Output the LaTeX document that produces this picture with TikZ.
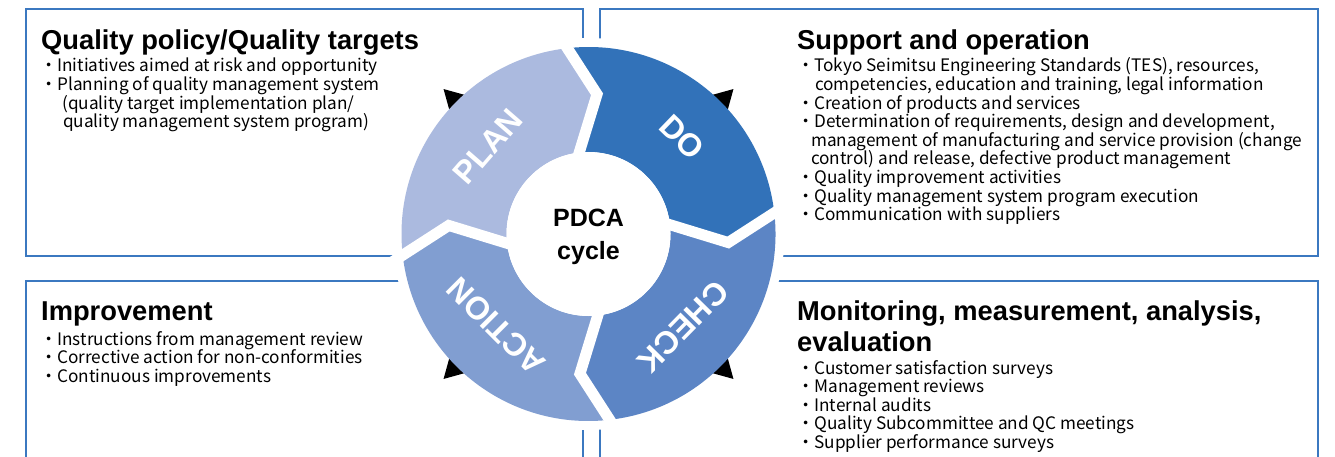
\documentclass[tikz,border=0pt]{standalone}
\usepackage{fontspec}
\setmainfont{Liberation Sans}
\newfontfamily\bodyfont{Noto Sans CJK JP}
\usetikzlibrary{calc}
\definecolor{boxblue}{RGB}{59,120,192}
\definecolor{plancol}{RGB}{171,186,223}
\definecolor{docol}{RGB}{50,114,185}
\definecolor{checkcol}{RGB}{92,133,197}
\definecolor{actcol}{RGB}{129,158,209}
\begin{document}
\begin{tikzpicture}[x=1pt,y=1pt,
  frame/.style={draw=boxblue, line width=1.6pt},
  title/.style={anchor=base west, inner sep=0pt, font=\bfseries\fontsize{27.3}{31}\selectfont},
  body/.style={anchor=base west, inner sep=0pt, font=\bodyfont\fontsize{17.2}{18.6}\selectfont},
  seglabel/.style={text=white, font=\bfseries\fontsize{32}{34}\selectfont, inner sep=0pt, text height=23pt, text depth=0pt, anchor=center},
  centre/.style={anchor=base, inner sep=0pt, font=\bfseries\fontsize{25}{30}\selectfont},
  sepline/.style={draw=white, line width=11pt, line join=miter}]
\clip (0,0) rectangle (1335,456);
\fill[white] (0,0) rectangle (1335,456);
% frames
\draw[frame] (26,447) rectangle (583,200);
\draw[frame] (600,447) rectangle (1318,200);
\draw[frame] (26,175) rectangle (583,-20);
\draw[frame] (600,175) rectangle (1318,-20);
% ring
\coordinate (O) at (588.5,222);
\fill[white] (O) circle[radius=196pt];
\foreach \a in {45,135,225,315}{
  \fill[black] ($(O)+(\a:205pt)$) -- ($(O)+(\a:175pt)+(\a+90:17pt)$) -- ($(O)+(\a:175pt)+(\a-90:17pt)$) -- cycle;
}
\foreach \c/\b in {plancol/186.5, docol/96.5, checkcol/6.5, actcol/-83.5}{
  \fill[\c] ($(O)+(\b:187pt)$) arc[start angle=\b, end angle=\b-90, radius=187pt]
    -- ($(O)+(\b-100:140pt)$) -- ($(O)+(\b-90:82pt)$)
    arc[start angle=\b-90, end angle=\b, radius=82pt]
    -- ($(O)+(\b-10:140pt)$) -- cycle;
}
\foreach \b in {186.5, 96.5, 6.5, -83.5}{
  \coordinate (T) at ($(O)+(\b-10:140pt)$);
  \coordinate (Ou) at ($(O)+(\b:187pt)$);
  \coordinate (In) at ($(O)+(\b:82pt)$);
  \draw[sepline] ($(T)!1.3!(Ou)$) -- (T) -- ($(T)!1.4!(In)$);
}
\fill[white] (O) circle[radius=82pt];
\node[seglabel, rotate=49] (plan) at ($(O)+(139:134pt)$) {PLAN};
\node[seglabel, rotate=-44] (do) at ($(O)+(46:135pt)$) {DO};
\node[seglabel, rotate=-134.5] (check) at ($(O)+(-44.5:133pt)$) {CHECK};
\node[seglabel, rotate=135] (action) at ($(O)+(-135:131pt)$) {ACTION};
\node[centre] (pdca) at (588.5,230) {PDCA};
\node[centre] (cycle) at (588.5,197) {cycle};
% titles
\node[title] (t1) at (41,406) {Quality policy/Quality targets};
\node[title] (t2) at (797,406) {Support and operation};
\node[title] (t3) at (41,136) {Improvement};
\node[title] (t4) at (797,136) {\vtop{\hbox{Monitoring, measurement, analysis,}\hbox{evaluation}}};
% bodies
\node[body] (b1) at (40,384) {\vtop{%
\hbox{・Initiatives aimed at risk and opportunity}%
\hbox{・Planning of quality management system}%
\hbox{\hspace*{22pt}(quality target implementation plan/}%
\hbox{\hspace*{23pt}quality management system program)}}};
\node[body] (b2) at (797,384) {\vtop{%
\hbox{・Tokyo Seimitsu Engineering Standards (TES), resources,}%
\hbox{\hspace*{18pt}competencies, education and training, legal information}%
\hbox{・Creation of products and services}%
\hbox{・Determination of requirements, design and development,}%
\hbox{\hspace*{14pt}management of manufacturing and service provision (change}%
\hbox{\hspace*{14pt}control) and release, defective product management}%
\hbox{・Quality improvement activities}%
\hbox{・Quality management system program execution}%
\hbox{・Communication with suppliers}}};
\node[body] (b3) at (40,111) {\vtop{%
\hbox{・Instructions from management review}%
\hbox{・Corrective action for non-conformities}%
\hbox{・Continuous improvements}}};
\node[body] (b4) at (797,82) {\vtop{%
\hbox{・Customer satisfaction surveys}%
\hbox{・Management reviews}%
\hbox{・Internal audits}%
\hbox{・Quality Subcommittee and QC meetings}%
\hbox{・Supplier performance surveys}}};
\end{tikzpicture}
\end{document}
